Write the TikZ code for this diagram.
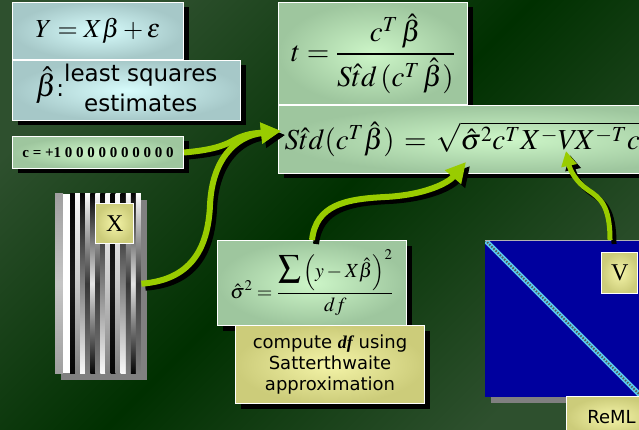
\documentclass[tikz,border=0pt]{standalone}
\usepackage{amsmath}
\usepackage{mathptmx}
\usepackage[no-math]{fontspec}
\setmainfont{Liberation Serif}
\setsansfont{DejaVu Sans}
\usetikzlibrary{positioning,arrows.meta,shadows}

\definecolor{bgdark}{RGB}{0,48,0}
\definecolor{bglight}{RGB}{46,80,46}
\definecolor{cyanin}{RGB}{215,252,252}
\definecolor{cyanout}{RGB}{166,200,200}
\definecolor{greenin}{RGB}{205,246,200}
\definecolor{greenout}{RGB}{158,198,158}
\definecolor{yelin}{RGB}{244,244,168}
\definecolor{yelout}{RGB}{204,204,122}
\definecolor{flowgreen}{RGB}{153,204,0}
\definecolor{matblue}{RGB}{0,0,158}
\definecolor{diagcyan}{RGB}{90,200,235}

\begin{document}
\begin{tikzpicture}[x=1pt, y=-1pt,
  panel/.style={draw=white, line width=1pt, inner sep=0pt,
    drop shadow={shadow xshift=5pt, shadow yshift=-5pt, fill=black, opacity=1}},
  cyanbox/.style={panel, inner color=cyanin, outer color=cyanout},
  greenbox/.style={panel, inner color=greenin, outer color=greenout},
  yelbox/.style={panel, inner color=yelin, outer color=yelout},
  tag/.style={draw=white, line width=1pt, inner sep=0pt, inner color=yelin, outer color=yelout},
  flow/.style={flowgreen, line width=6pt, -{Triangle[length=20pt,width=20pt]}},
  flowshade/.style={flow, black, transform canvas={xshift=4pt,yshift=-4pt}}]
  \useasboundingbox (0,0) rectangle (639,430);
  \shade[top color=bglight, bottom color=bglight, middle color=bgdark, shading angle=45]
    (0,0) rectangle (639,430);

  % design matrix X
  \node[anchor=north west, minimum width=86pt, minimum height=179pt, inner sep=0pt] (design) at (55,194) {};
  \fill[gray] (61,200) rectangle (147,380);
  \shade[top color=gray!75, bottom color=gray!75, middle color=gray!45] (55,194) rectangle (63,373);
  \fill[white] (63,194) rectangle (70,373);
  \foreach \k in {0,...,13}{
    \pgfmathsetmacro{\ga}{50+48*cos(180*\k)}
    \pgfmathsetmacro{\gb}{50+40*cos(180*\k+45*\k)}
    \pgfmathsetmacro{\gc}{50+48*cos(180*\k+90*\k)}
    \shade[top color=black!\ga!white, bottom color=black!\gc!white, middle color=black!\gb!white]
      ({70+5.07*\k},194) rectangle ({75.07+5.07*\k},373);
  }
  \node[tag, anchor=north east, minimum width=38pt, minimum height=40pt,
        font=\fontsize{24}{24}\selectfont] (xtag) at ([xshift=-7pt,yshift=-9pt]design.north east) {X};

  % covariance V
  \fill[gray] (491,397) rectangle (650,403);
  \node[anchor=north west, fill=matblue, minimum width=157pt, minimum height=157pt, inner sep=0pt] (covmat) at (485,240) {};
  \begin{scope}
    \clip (covmat.north west) rectangle (covmat.south east);
    \draw[diagcyan, line width=5pt] (covmat.north west) -- (covmat.south east);
    \draw[black!65, line width=2pt, dash pattern=on 1.5pt off 1.5pt] (covmat.north west) -- (covmat.south east);
  \end{scope}
  \draw[gray!60!white, line width=0.8pt] (covmat.north west) -- (covmat.north east);
  \node[tag, anchor=north east, minimum width=36pt, minimum height=41pt,
        font=\fontsize{24}{24}\selectfont] (vtag) at ([xshift=-4pt,yshift=-12pt]covmat.north east) {V};
  \node[tag, anchor=north west, minimum width=90pt, minimum height=40pt,
        font=\sffamily\fontsize{18}{18}\selectfont] (reml) at ([xshift=81pt,yshift=1pt]covmat.south west) {ReML};

  % boxes
  \node[cyanbox, anchor=north west, minimum width=171pt, minimum height=57pt,
        font=\fontsize{26}{26}\selectfont] (model) at (12,2) {$Y = X\beta + \varepsilon$};
  \node[cyanbox, below=0pt of model.south west, anchor=north west, minimum width=228pt, minimum height=59pt,
        font=\sffamily\fontsize{23}{30}\selectfont]
    (lse) {{\fontsize{31}{31}\selectfont$\hat{\beta}$}:\begin{tabular}[c]{@{}c@{}}least squares\\estimates\end{tabular}};
  \node[greenbox, below=15pt of lse.south west, anchor=north west, minimum width=171pt, minimum height=32pt,
        font=\bfseries\fontsize{15}{15}\selectfont] (cvec) {c = +1 0 0 0 0 0 0 0 0 0 0};

  \node[greenbox, anchor=north west, minimum width=189pt, minimum height=102pt,
        font=\fontsize{29}{29}\selectfont] (tstat) at (278,2)
    {$t = \dfrac{c^{T}\,\hat{\beta}}{S\hat{t}d\,(c^{T}\,\hat{\beta})}$};
  \node[greenbox, below=0pt of tstat.south west, anchor=north west, minimum height=68pt,
        text width=440pt, inner xsep=6pt, align=left, font=\fontsize{29}{29}\selectfont] (stderr)
    {$S\hat{t}d(c^{T}\hat{\beta}) \,=\, \sqrt{\hat{\sigma}^{2}c^{T}X^{-}V\!X^{-T}c}$};

  \node[greenbox, anchor=north west, minimum width=189pt, minimum height=85pt,
        font=\fontsize{20}{20}\selectfont] (sigma) at (217,240)
    {$\hat{\sigma}^{2} = \dfrac{\scalebox{1.6}{$\sum$}\left(y - X\hat{\beta}\right)^{2}}{df}$};
  \node[yelbox, below right=-1pt and 18pt of sigma.south west, minimum width=189pt, minimum height=78pt,
        align=center, font=\sffamily\fontsize{18}{21}\selectfont] (dfbox)
    {compute {\rmfamily\bfseries\itshape df} using\\Satterthwaite\\approximation};

  % arrows
  \coordinate (meet) at (281,131);
  \coordinate (sigtip) at (466,162);
  \coordinate (vtip) at (566,151);
  \foreach \s in {flowshade, flow}{
    \draw[\s] (cvec.east) .. controls (212,150) and (224,146) .. (236,139) .. controls (250,132) and (262,133) .. (meet);
    \draw[\s] (design.east) .. controls (190,280) and (208,250) .. (210,205) .. controls (212,160) and (235,136) .. (meet);
    \draw[\s] (sigma.north) .. controls (316,205) and (345,199) .. (385,197) .. controls (425,195) and (448,183) .. (sigtip);
    \draw[\s, line width=5pt, -{Triangle[length=15pt,width=15pt]}] ([xshift=125pt]covmat.north west)
      .. controls (610,205) and (600,198) .. (588,190) .. controls (576,182) and (570,170) .. (vtip);
  }
\end{tikzpicture}
\end{document}
